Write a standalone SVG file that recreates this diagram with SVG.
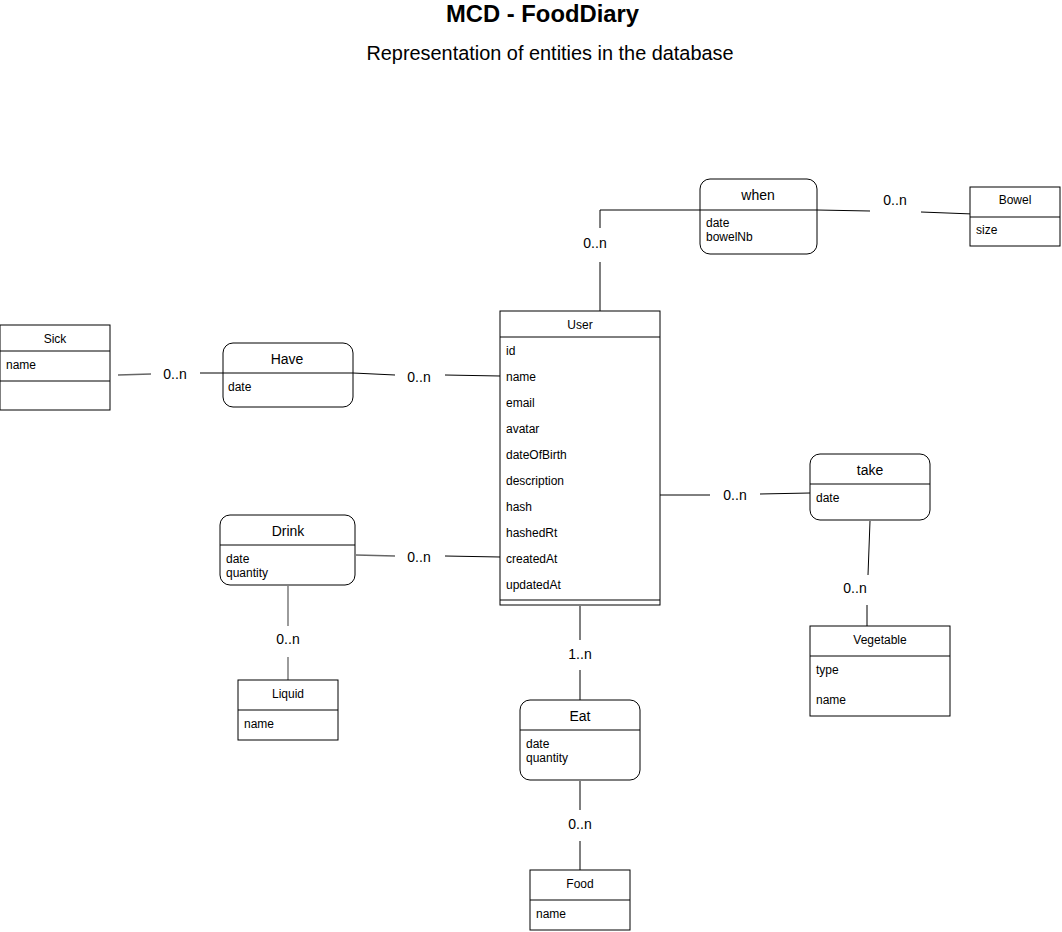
<svg xmlns="http://www.w3.org/2000/svg" width="1062" height="932" viewBox="0 0 1062 932">
<style>
text{font-family:"Liberation Sans",Arial,sans-serif;fill:#000}
.t{font-size:23.8px;font-weight:bold;text-anchor:middle}
.st{font-size:19.9px;text-anchor:middle}
.ent{fill:#fff;stroke:#000;stroke-width:1}
.rel{fill:#fff;stroke:#000;stroke-width:1}
.sep{stroke:#000;stroke-width:1;fill:none}
.h{font-size:12px;text-anchor:middle}
.rh{font-size:14px;text-anchor:middle}
.a{font-size:12px}
.lbl{font-size:14px;text-anchor:middle}
.c{stroke:#000;stroke-width:1;fill:none}
.g{stroke:#666;stroke-width:1.3;fill:none}
</style>
<rect width="1062" height="932" fill="#fff"/>
<text class="t" x="542.5" y="22">MCD - FoodDiary</text>
<text class="st" x="550" y="60">Representation of entities in the database</text>

<g id="connectors">
<polyline class="c" points="600,311 600,262"/>
<polyline class="c" points="600,228 600,210 700,210"/>
<polyline class="c" points="817,210 870,211"/>
<line class="c" x1="921" y1="212" x2="973" y2="214"/>
<line class="g" x1="118" y1="375" x2="151" y2="374"/>
<line class="c" x1="200" y1="373" x2="223" y2="373"/>
<line class="c" x1="353" y1="373" x2="395" y2="375"/>
<line class="c" x1="445" y1="375" x2="500" y2="376"/>
<line class="c" x1="657" y1="495" x2="710" y2="495"/>
<line class="c" x1="760" y1="494" x2="810" y2="493"/>
<line class="c" x1="870" y1="521" x2="868" y2="575"/>
<line class="c" x1="867" y1="605" x2="867" y2="626"/>
<line class="g" x1="356" y1="555" x2="395" y2="556"/>
<line class="c" x1="445" y1="556" x2="500" y2="557"/>
<line class="g" x1="288" y1="586" x2="288" y2="626"/>
<line class="g" x1="288" y1="657" x2="288" y2="680"/>
<line class="c" x1="580" y1="606" x2="580" y2="640"/>
<line class="c" x1="580" y1="670" x2="580" y2="700"/>
<line class="c" x1="580" y1="781" x2="580" y2="810"/>
<line class="c" x1="580" y1="841" x2="580" y2="870"/>
<text class="lbl" x="595" y="248">0..n</text>
<text class="lbl" x="895" y="205">0..n</text>
<text class="lbl" x="175" y="379">0..n</text>
<text class="lbl" x="419" y="382">0..n</text>
<text class="lbl" x="735" y="500">0..n</text>
<text class="lbl" x="855" y="593">0..n</text>
<text class="lbl" x="419" y="562">0..n</text>
<text class="lbl" x="288" y="644">0..n</text>
<text class="lbl" x="580" y="659">1..n</text>
<text class="lbl" x="580" y="829">0..n</text>
</g>

<g id="when">
<rect class="rel" x="700" y="179" width="117" height="75" rx="10"/>
<line class="sep" x1="700" y1="210" x2="817" y2="210"/>
<text class="rh" x="758" y="200">when</text>
<text class="a" x="706" y="227">date</text>
<text class="a" x="706" y="241">bowelNb</text>
</g>

<g id="bowel">
<rect class="ent" x="970" y="187" width="90" height="59"/>
<line class="sep" x1="970" y1="217" x2="1060" y2="217"/>
<text class="h" x="1015" y="204">Bowel</text>
<text class="a" x="976" y="234">size</text>
</g>

<g id="sick">
<rect class="ent" x="0" y="325" width="110" height="85"/>
<line class="sep" x1="0" y1="351" x2="110" y2="351"/>
<line class="sep" x1="0" y1="381" x2="110" y2="381"/>
<text class="h" x="55" y="343">Sick</text>
<text class="a" x="6" y="369">name</text>
</g>

<g id="have">
<rect class="rel" x="223" y="343" width="130" height="64" rx="10"/>
<line class="sep" x1="223" y1="373" x2="353" y2="373"/>
<text class="rh" x="287" y="364">Have</text>
<text class="a" x="228" y="391">date</text>
</g>

<g id="user">
<rect class="ent" x="500" y="311" width="160" height="294"/>
<line class="sep" x1="500" y1="337" x2="660" y2="337"/>
<line class="sep" x1="500" y1="600" x2="660" y2="600"/>
<text class="h" x="580" y="329">User</text>
<text class="a" x="506" y="355">id</text>
<text class="a" x="506" y="381">name</text>
<text class="a" x="506" y="407">email</text>
<text class="a" x="506" y="433">avatar</text>
<text class="a" x="506" y="459">dateOfBirth</text>
<text class="a" x="506" y="485">description</text>
<text class="a" x="506" y="511">hash</text>
<text class="a" x="506" y="537">hashedRt</text>
<text class="a" x="506" y="563">createdAt</text>
<text class="a" x="506" y="589">updatedAt</text>
</g>

<g id="take">
<rect class="rel" x="810" y="454" width="120" height="66" rx="10"/>
<line class="sep" x1="810" y1="484" x2="930" y2="484"/>
<text class="rh" x="870" y="475">take</text>
<text class="a" x="816" y="502">date</text>
</g>

<g id="vegetable">
<rect class="ent" x="810" y="626" width="140" height="90"/>
<line class="sep" x1="810" y1="656" x2="950" y2="656"/>
<text class="h" x="880" y="644">Vegetable</text>
<text class="a" x="816" y="674">type</text>
<text class="a" x="816" y="704">name</text>
</g>

<g id="drink">
<rect class="rel" x="220" y="515" width="135" height="70" rx="10"/>
<line class="sep" x1="220" y1="545" x2="355" y2="545"/>
<text class="rh" x="288" y="536">Drink</text>
<text class="a" x="226" y="563">date</text>
<text class="a" x="226" y="577">quantity</text>
</g>

<g id="liquid">
<rect class="ent" x="238" y="680" width="100" height="60"/>
<line class="sep" x1="238" y1="710" x2="338" y2="710"/>
<text class="h" x="288" y="698">Liquid</text>
<text class="a" x="244" y="728">name</text>
</g>

<g id="eat">
<rect class="rel" x="520" y="700" width="120" height="80" rx="10"/>
<line class="sep" x1="520" y1="730" x2="640" y2="730"/>
<text class="rh" x="580" y="721">Eat</text>
<text class="a" x="526" y="748">date</text>
<text class="a" x="526" y="762">quantity</text>
</g>

<g id="food">
<rect class="ent" x="530" y="870" width="100" height="60"/>
<line class="sep" x1="530" y1="900" x2="630" y2="900"/>
<text class="h" x="580" y="888">Food</text>
<text class="a" x="536" y="918">name</text>
</g>
</svg>
